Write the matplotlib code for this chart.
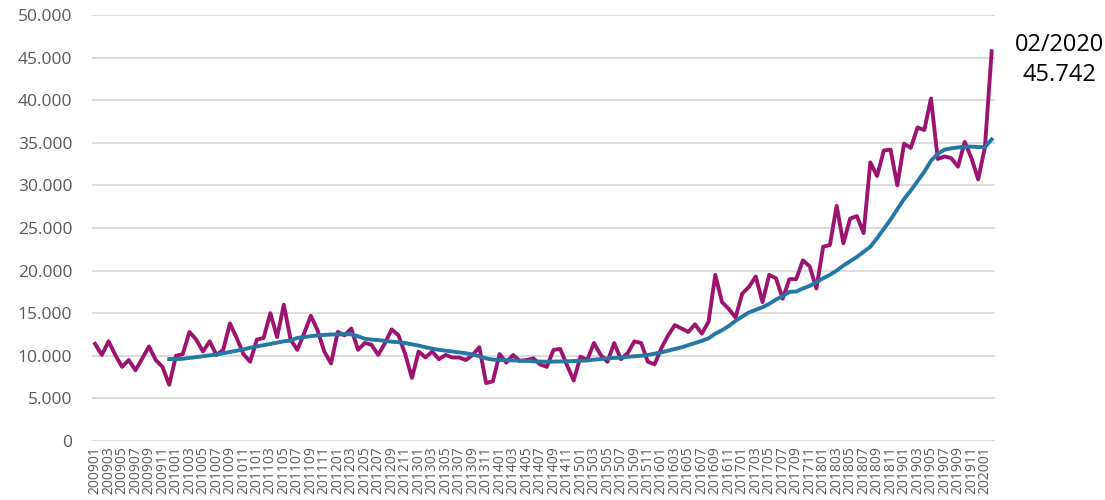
import matplotlib
matplotlib.use('Agg')
import matplotlib.pyplot as plt
from matplotlib.ticker import FuncFormatter

# meses desde 200901 hasta 202002
meses = ['%d%02d' % (anio, mes) for anio in range(2009, 2021) for mes in range(1, 13)][:134]

# valores mensuales (linea violeta)
valores = [
    11400, 10100, 11700, 10100, 8700, 9500, 8300, 9700, 11100, 9500, 8700, 6600,
    10000, 10200, 12800, 11900, 10500, 11700, 10100, 10700, 13800, 12100, 10200, 9300,
    11900, 12100, 15000, 12200, 16000, 11900, 10700, 12600, 14700, 13000, 10500, 9100,
    12800, 12400, 13200, 10700, 11500, 11300, 10100, 11500, 13100, 12400, 10200, 7400,
    10500, 9800, 10500, 9600, 10100, 9800, 9800, 9500, 10100, 11000, 6800, 7000,
    10200, 9200, 10100, 9400, 9500, 9700, 9000, 8700, 10700, 10800, 8900, 7100,
    9900, 9500, 11500, 10100, 9300, 11500, 9600, 10300, 11700, 11500, 9300, 9000,
    10900, 12400, 13600, 13200, 12800, 13700, 12600, 14000, 19500, 16300, 15500, 14500,
    17300, 18100, 19300, 16300, 19500, 19100, 16700, 19000, 19000, 21200, 20500, 17900,
    22800, 23000, 27600, 23200, 26100, 26400, 24400, 32700, 31100, 34100, 34200, 30000,
    34900, 34400, 36800, 36500, 40200, 33100, 33400, 33200, 32200, 35100, 33200, 30700,
    34500, 45742,
]

# media movil 12 meses (linea azul), empieza en 200912
media_movil = [
    9620, 9600, 9650, 9750, 9850, 9950, 10050, 10150, 10300, 10450, 10600, 10750,
    10950, 11100, 11250, 11400, 11550, 11700, 11800, 12100, 12200, 12300, 12400, 12450,
    12500, 12520, 12540, 12520, 12300, 12000, 11900, 11850, 11750, 11650, 11600, 11500,
    11350, 11200, 11000, 10850, 10700, 10600, 10500, 10400, 10300, 10150, 9950, 9700,
    9550, 9500, 9480, 9450, 9420, 9400, 9350, 9320, 9300, 9320, 9340, 9350,
    9380, 9420, 9450, 9550, 9620, 9700, 9750, 9800, 9880, 9950, 10000, 10100,
    10250, 10400, 10600, 10800, 11000, 11250, 11500, 11750, 12050, 12600, 13000, 13500,
    14100, 14600, 15100, 15400, 15700, 16100, 16600, 17000, 17500, 17550, 17900, 18200,
    18650, 19100, 19500, 20000, 20600, 21100, 21600, 22200, 22800, 23800, 24900, 26000,
    27200, 28400, 29400, 30500, 31600, 32900, 33700, 34200, 34350, 34450, 34550, 34550,
    34500, 34500, 35400,
]
inicio_media = 11

plt.rcParams['font.family'] = ['Open Sans', 'DejaVu Sans']

fig = plt.figure(figsize=(11.05, 5), dpi=100)
ax = fig.add_axes([0.083, 0.118, 0.8175, 0.852])

x = list(range(len(valores)))
ax.plot(x, valores, color='#9C1470', lw=2.8, solid_joinstyle='round', zorder=3)
ax.plot(x[inicio_media:], media_movil, color='#2378A5', lw=2.8, solid_joinstyle='round', zorder=4)

ax.set_xlim(-0.5, len(valores) - 0.5)
ax.set_ylim(0, 50000)
ax.set_yticks(range(0, 50001, 5000))
ax.yaxis.set_major_formatter(FuncFormatter(lambda v, p: '{:,.0f}'.format(v).replace(',', '.')))
ax.set_xticks(x[::2])
ax.set_xticklabels(meses[::2], rotation=90, fontsize=10, color='#595959')
ax.tick_params(axis='y', labelsize=12.5, labelcolor='#595959', length=0, pad=14)
ax.tick_params(axis='x', length=0, pad=4)

ax.grid(axis='y', color='#D9D9D9', lw=1.3)
ax.set_axisbelow(True)
for s in ax.spines.values():
    s.set_visible(False)

# etiqueta del ultimo dato
fig.text(0.959, 0.88, '02/2020\n45.742', ha='center', va='center', fontsize=17, linespacing=1.35)

fig.savefig('out.png', dpi=100)
